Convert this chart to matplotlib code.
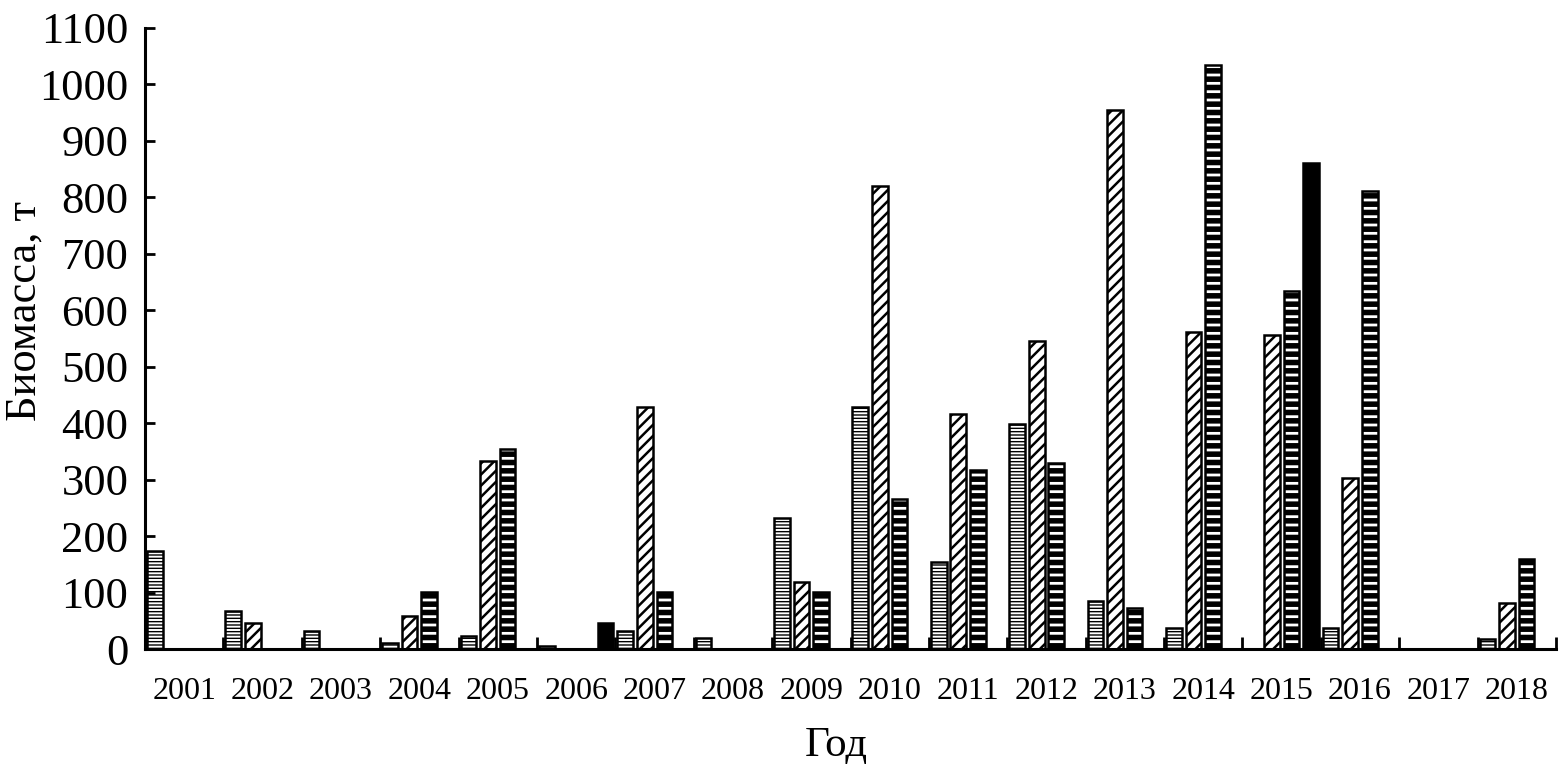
import numpy as np
import matplotlib
matplotlib.use("Agg")
import matplotlib.pyplot as plt

plt.rcParams['font.family'] = ['Liberation Serif', 'DejaVu Serif']

years = [str(y) for y in range(2001, 2019)]

# biomass, t (four series per year)
fine_lines = [173, 67, 32, 10, 23, 5, 32, 19, 232, 428, 154, 398, 85, 37, 0, 37, 0, 17]
diagonal = [0, 46, 0, 58, 333, 0, 428, 0, 118, 821, 416, 545, 954, 561, 557, 303, 0, 82]
coarse_lines = [0, 0, 0, 101, 354, 0, 101, 0, 101, 265, 317, 329, 73, 1035, 634, 812, 0, 159]
solid = [0, 0, 0, 0, 0, 46, 0, 0, 0, 0, 0, 0, 0, 0, 860, 0, 0, 0]

series = [
    (fine_lines, '-----', 'white', 1.0),
    (diagonal, '///', 'white', 1.8),
    (coarse_lines, '--', 'white', 4.0),
    (solid, '', 'black', 1.0),
]

fig = plt.figure(figsize=(15.63, 7.69), dpi=100)
ax = fig.add_axes([0.0928, 0.156, 0.9027, 0.8076])

n_slots = 4
width = 0.2
x = np.arange(len(years))
for j, (vals, hatch, face, hlw) in enumerate(series):
    vals = np.array(vals, dtype=float)
    mask = vals > 0
    pos = x[mask] + (j + 0.5) / n_slots
    with plt.rc_context({'hatch.linewidth': hlw}):
        bars = ax.bar(pos, vals[mask], width=width, facecolor=face,
                      edgecolor='black', linewidth=1.8, hatch=hatch)
    for b in bars:
        if hasattr(b, 'set_hatch_linewidth'):
            b.set_hatch_linewidth(hlw)

ax.set_xlim(0, len(years))
ax.set_ylim(0, 1100)
ax.set_yticks(np.arange(0, 1101, 100))

# group boundaries as ticks, year labels centred in each group
ax.set_xticks(np.arange(0, len(years) + 1))
ax.set_xticklabels([])
ax.set_xticks(x + 0.5, minor=True)
ax.set_xticklabels(years, minor=True)

ax.tick_params(axis='x', which='major', direction='in', length=9, width=2)
ax.tick_params(axis='x', which='minor', length=0, pad=20, labelsize=23)
ax.tick_params(axis='y', direction='in', length=7, width=2, pad=12, labelsize=32)

for side in ['top', 'right']:
    ax.spines[side].set_visible(False)
for side in ['left', 'bottom']:
    ax.spines[side].set_linewidth(2.2)

ax.set_xlabel('Год', fontsize=31)
ax.xaxis.set_label_coords(0.49, -0.125)
ax.set_ylabel('Биомасса, т', fontsize=32)
ax.yaxis.set_label_coords(-0.071, 0.545)

fig.savefig('out.png', dpi=100)
